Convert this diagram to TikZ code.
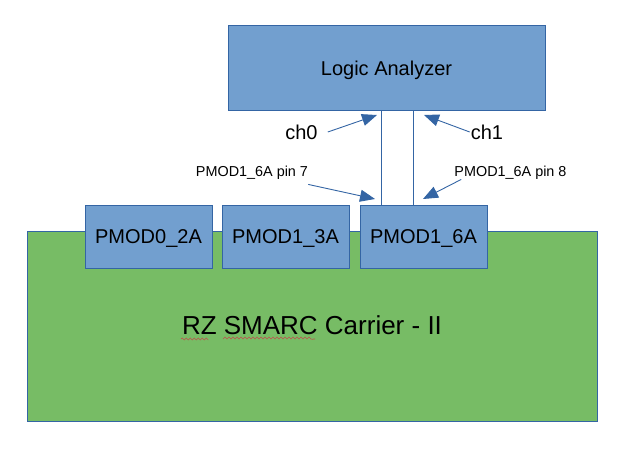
\documentclass[tikz,border=0pt]{standalone}
\usepackage{fontspec}
\setmainfont{Liberation Sans}
\usetikzlibrary{arrows.meta,decorations.pathmorphing}

\definecolor{boxblue}{HTML}{729FCF}
\definecolor{edgeblue}{HTML}{3465A4}
\definecolor{boardgreen}{HTML}{77BC65}
\definecolor{spellred}{HTML}{C0504D}

\begin{document}
\begin{tikzpicture}[x=1pt, y=-1pt,
    blk/.style={draw=edgeblue, line width=0.8pt, inner sep=0pt},
    txt/.style={inner sep=0pt, text depth=0pt, font=\fontsize{20}{24}\selectfont},
    small/.style={inner sep=0pt, text depth=0pt, font=\fontsize{14.4}{17}\selectfont},
    wire/.style={edgeblue, line width=0.9pt},
    probe/.style={edgeblue, line width=0.9pt, -{Triangle[length=15pt,width=12pt]}},
    ]
    \pgfmathsetmacro{\pw}{127}% PMOD 宽
    \pgfmathsetmacro{\ph}{63}% PMOD 高
    \pgfmathsetmacro{\py}{236.5}% PMOD 中心的 y

    \useasboundingbox (0, 0) rectangle (641, 464);

    % 底板
    \node[blk, fill=boardgreen, minimum width=570pt, minimum height=190pt] (board) at (312, 326) {};
    \node[inner sep=0pt, anchor=base, font=\fontsize{26}{30}\selectfont] (carrier) at (312, 334) {RZ SMARC Carrier - II};
    \draw[spellred, line width=0.6pt, decorate, decoration={snake, amplitude=1pt, segment length=4pt}]
        (181, 339) -- (207, 339) (223, 339) -- (315, 339);

    % 三个 PMOD 接口
    \node[blk, fill=boxblue, txt, minimum width=\pw pt, minimum height=\ph pt] (p02) at (148.5, \py) {PMOD0\_2A};
    \node[blk, fill=boxblue, txt, minimum width=\pw pt, minimum height=\ph pt] (p13) at (285.5, \py) {PMOD1\_3A};
    \node[blk, fill=boxblue, txt, minimum width=\pw pt, minimum height=\ph pt] (p16) at (423.5, \py) {PMOD1\_6A};

    % 逻辑分析仪
    \node[blk, fill=boxblue, txt, minimum width=317pt, minimum height=85pt] (la) at (386.5, 67.5) {\raisebox{-1pt}{Logic Analyzer}};

    % 两根探针线
    \coordinate (x0) at (381, 0);
    \coordinate (x1) at (413, 0);
    \draw[wire] (la.south -| x0) -- (p16.north -| x0);
    \draw[wire] (la.south -| x1) -- (p16.north -| x1);

    % 标注
    \node[txt] (ch0) at (301.5, 132) {ch0};
    \node[txt] (ch1) at (487, 132) {ch1};
    \node[small] (pin7) at (252, 171) {PMOD1\_6A pin 7};
    \node[small] (pin8) at (510.5, 171) {PMOD1\_6A pin 8};

    \coordinate (t0) at (377, 115);
    \coordinate (t1) at (424, 115);
    \coordinate (t7) at (375, 199);
    \coordinate (t8) at (423, 199);

    \draw[probe] ([xshift=10pt]ch0.east) -- (t0);
    \draw[probe] ([xshift=-1pt]ch1.west) -- (t1);
    \draw[probe] ([yshift=-8pt]pin7.south east) -- (t7);
    \draw[probe] ([xshift=7pt, yshift=-3pt]pin8.south west) -- (t8);
\end{tikzpicture}
\end{document}
